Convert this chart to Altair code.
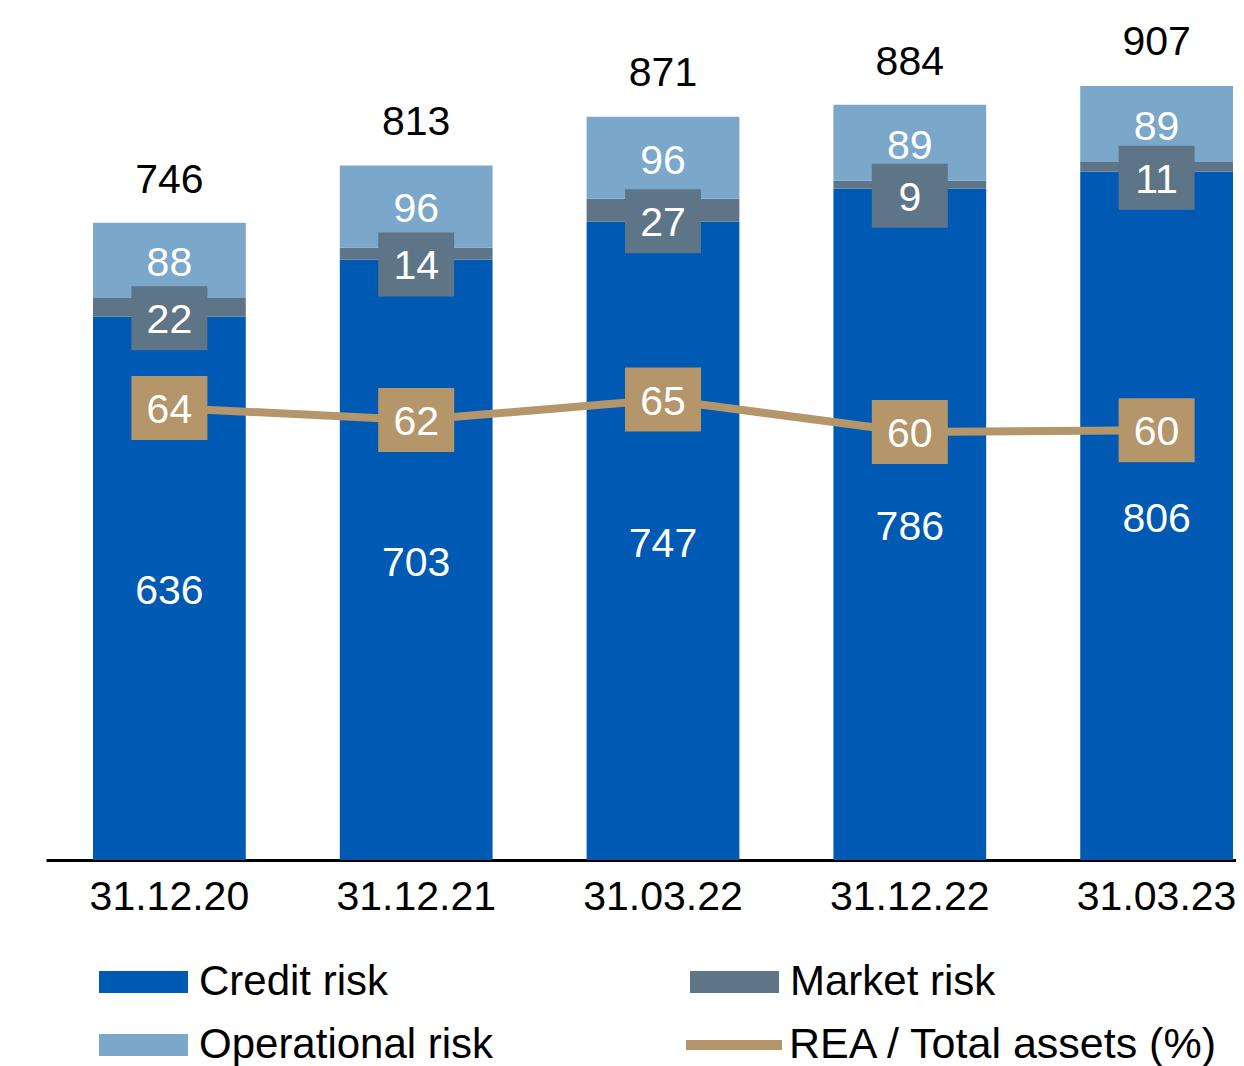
import altair as alt
import pandas as pd

dates = ["31.12.20", "31.12.21", "31.03.22", "31.12.22", "31.03.23"]
credit = [636, 703, 747, 786, 806]
market = [22, 14, 27, 9, 11]
operational = [88, 96, 96, 89, 89]
totals = [746, 813, 871, 884, 907]
rea = [64.0, 62.0, 65.4, 60.0, 60.3]

series_names = ["Credit risk", "Market risk", "Operational risk"]
series_colors = ["#0059B2", "#5E7487", "#7BA7CB"]
line_name = "REA / Total assets (%)"
line_color = "#B4966A"
FONT = "Liberation Sans"

rows = []
for i, d in enumerate(dates):
    for k, (name, vals) in enumerate(zip(series_names, [credit, market, operational])):
        rows.append({"date": d, "series": name, "idx": k, "value": vals[i]})
bars_df = pd.DataFrame(rows)
tot_df = pd.DataFrame({"date": dates, "total": totals})
rea_df = pd.DataFrame({"date": dates, "rea": rea, "series": [line_name] * len(dates)})

xscale = alt.Scale(domain=dates, paddingInner=0.381, paddingOuter=0.1013, align=0.94)
x = alt.X("date:N", scale=xscale, sort=dates,
          axis=alt.Axis(title=None, labelAngle=0, labelFontSize=41, labelColor="black",
                        labelFont=FONT, ticks=False, tickSize=0, labelPadding=17,
                        domainColor="black", domainWidth=3, grid=False))
ybar = alt.Scale(domain=[0, 995], nice=False, zero=True)
yline = alt.Scale(domain=[-11.33, 130.33], nice=False, zero=False)

rect_path = "M-1,-0.842H1V0.842H-1Z"

base = alt.Chart(bars_df).transform_stack(
    stack="value", groupby=["date"], sort=[alt.SortField("idx", order="ascending")],
    as_=["lo", "hi"]
).transform_calculate(mid="(datum.lo + datum.hi) / 2")

bars = base.mark_bar(strokeWidth=0).encode(
    x=x,
    y=alt.Y("lo:Q", scale=ybar, axis=None),
    y2="hi:Q",
    fill=alt.Fill("series:N", scale=alt.Scale(domain=series_names, range=series_colors),
                  legend=alt.Legend(orient="none", legendX=53, legendY=945, columns=2,
                                    direction="horizontal",
                                    title=None, symbolType="M-1,-0.247H1V0.247H-1Z",
                                    symbolSize=7921, symbolStrokeWidth=0, symbolOpacity=1,
                                    clipHeight=54, rowPadding=9, columnPadding=196,
                                    labelFontSize=42, labelFont=FONT, labelColor="black",
                                    labelOffset=11, labelLimit=0)),
)

market_box = base.transform_filter(alt.datum.series == "Market risk").mark_point(
    shape=rect_path, size=5776, filled=True, fill=series_colors[1], opacity=1,
    strokeWidth=0, yOffset=11
).encode(x=x, y=alt.Y("mid:Q", scale=ybar, axis=None))

market_text = base.transform_filter(alt.datum.series == "Market risk").mark_text(
    color="white", fontSize=41, font=FONT, baseline="middle", yOffset=11, dy=3
).encode(x=x, y=alt.Y("mid:Q", scale=ybar, axis=None), text="value:Q")

other_text = base.transform_filter(alt.datum.series != "Market risk").mark_text(
    color="white", fontSize=41, font=FONT, baseline="middle", dy=4
).encode(x=x, y=alt.Y("mid:Q", scale=ybar, axis=None), text="value:Q")

total_text = alt.Chart(tot_df).mark_text(
    color="black", fontSize=41, font=FONT, baseline="middle", dy=-42
).encode(x=x, y=alt.Y("total:Q", scale=ybar, axis=None), text="total:Q")

bar_layer = alt.layer(bars, market_box, market_text, other_text, total_text)

line = alt.Chart(rea_df).mark_line(strokeWidth=8).encode(
    x=x,
    y=alt.Y("rea:Q", scale=yline, axis=None),
    stroke=alt.Stroke("series:N", scale=alt.Scale(domain=[line_name], range=[line_color]),
                      legend=alt.Legend(orient="none", legendX=635, legendY=1008, title=None,
                                        symbolType="stroke", symbolSize=9216,
                                        symbolStrokeWidth=10, clipHeight=54,
                                        labelFontSize=43, labelFont=FONT, labelColor="black",
                                        labelOffset=2, labelLimit=0)),
)
line_box = alt.Chart(rea_df).mark_point(
    shape=rect_path, size=5776, filled=True, fill=line_color, opacity=1, strokeWidth=0
).encode(x=x, y=alt.Y("rea:Q", scale=yline, axis=None))
line_text = alt.Chart(rea_df).mark_text(
    color="white", fontSize=41, font=FONT, baseline="middle", dy=3
).encode(x=x, y=alt.Y("rea:Q", scale=yline, axis=None), text=alt.Text("rea:Q", format=".0f"))

line_layer = alt.layer(line, line_box, line_text)

chart = alt.layer(bar_layer, line_layer).resolve_scale(y="independent").properties(
    width=1190, height=850,
    autosize=alt.AutoSizeParams(type="none"),
    padding={"left": 38, "top": 2, "right": 0, "bottom": 206},
    background="white",
).configure_view(stroke=None)

chart.save("out.html", embed_options={"renderer": "svg", "actions": False})
